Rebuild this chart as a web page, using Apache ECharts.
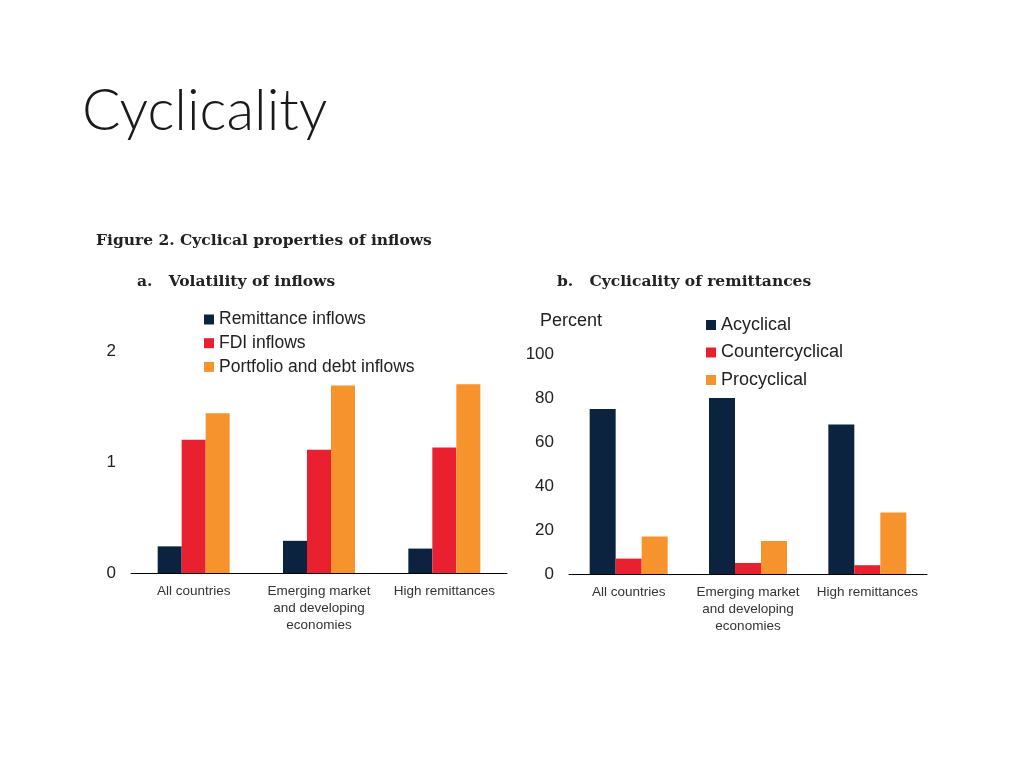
<!DOCTYPE html>
<html>
<head>
<meta charset="utf-8">
<script src="https://cdn.jsdelivr.net/npm/echarts@6/dist/echarts.min.js"></script>
<style>
html,body{margin:0;padding:0;background:#fff;}
#main{width:1024px;height:768px;}
</style>
</head>
<body>
<div id="main"></div>
<script>
// ---- data ----
const categories = ['All countries', 'Emerging market\nand developing\neconomies', 'High remittances'];
const remittanceInflows = [0.24, 0.29, 0.22];
const fdiInflows = [1.20, 1.11, 1.13];
const portfolioDebtInflows = [1.44, 1.69, 1.70];
const acyclical = [75, 80, 68];
const countercyclical = [7, 5, 4];
const procyclical = [17, 15, 28];
const leftTicks = [0, 1, 2];
const rightTicks = [0, 20, 40, 60, 80, 100];

const NAVY = '#0c2340', RED = '#e8202f', ORANGE = '#f6932c';
const SANS = '"Liberation Sans", Arial, sans-serif';
const SERIF = '"DejaVu Serif", "Liberation Serif", serif';

const chart = echarts.init(document.getElementById('main'), null, {renderer: 'canvas'});

function yAxis(ticks, gridIndex) {
  return {
    type: 'value', gridIndex: gridIndex,
    min: ticks[0], max: ticks[ticks.length - 1], interval: ticks[1] - ticks[0],
    axisLine: {show: false}, axisTick: {show: false}, splitLine: {show: false},
    axisLabel: {fontFamily: SANS, fontSize: 17, color: '#222', margin: 15}
  };
}
function xAxis(gridIndex) {
  return {
    type: 'category', gridIndex: gridIndex, data: categories,
    axisLine: {lineStyle: {color: '#000', width: 1}},
    axisTick: {show: false},
    axisLabel: {fontFamily: SANS, fontSize: 13.5, color: '#333', lineHeight: 17, margin: 10, interval: 0}
  };
}
function bar(name, data, color, idx, width) {
  return {
    name: name, type: 'bar', data: data, xAxisIndex: idx, yAxisIndex: idx,
    barWidth: width, barGap: '0%', itemStyle: {color: color}, silent: true
  };
}

chart.setOption({
  animation: false,
  backgroundColor: '#fff',
  graphic: [
    {type: 'text', left: 82, top: 83, style: {text: 'Cyclicality', font: '300 57px Lato, "Open Sans", sans-serif', fill: '#1a1a1a'}},
    {type: 'text', left: 96, top: 233, style: {text: 'Figure 2. Cyclical properties of inflows', font: 'bold 15.5px ' + SERIF, fill: '#222'}},
    {type: 'text', left: 137, top: 274, style: {text: 'a.   Volatility of inflows', font: 'bold 15.5px ' + SERIF, fill: '#222'}},
    {type: 'text', left: 557, top: 274, style: {text: 'b.   Cyclicality of remittances', font: 'bold 15.5px ' + SERIF, fill: '#222'}},
    {type: 'text', left: 540, top: 312, style: {text: 'Percent', font: '18px ' + SANS, fill: '#222'}}
  ],
  legend: [
    {
      orient: 'vertical', left: 204, top: 310.5, padding: 0, itemGap: 5.7, itemWidth: 10, itemHeight: 10,
      icon: 'rect', textStyle: {fontFamily: SANS, fontSize: 17.5, color: '#222'},
      data: ['Remittance inflows', 'FDI inflows', 'Portfolio and debt inflows']
    },
    {
      orient: 'vertical', left: 706, top: 316, padding: 0, itemGap: 9.5, itemWidth: 10, itemHeight: 10,
      icon: 'rect', textStyle: {fontFamily: SANS, fontSize: 18, color: '#222'},
      data: ['Acyclical', 'Countercyclical', 'Procyclical']
    }
  ],
  grid: [
    {left: 131, right: 1024 - 507, top: 351, bottom: 768 - 573},
    {left: 569, right: 1024 - 927, top: 354, bottom: 768 - 574}
  ],
  xAxis: [xAxis(0), xAxis(1)],
  yAxis: [yAxis(leftTicks, 0), yAxis(rightTicks, 1)],
  series: [
    bar('Remittance inflows', remittanceInflows, NAVY, 0, 24),
    bar('FDI inflows', fdiInflows, RED, 0, 24),
    bar('Portfolio and debt inflows', portfolioDebtInflows, ORANGE, 0, 24),
    bar('Acyclical', acyclical, NAVY, 1, 26),
    bar('Countercyclical', countercyclical, RED, 1, 26),
    bar('Procyclical', procyclical, ORANGE, 1, 26)
  ]
});
</script>
</body>
</html>
